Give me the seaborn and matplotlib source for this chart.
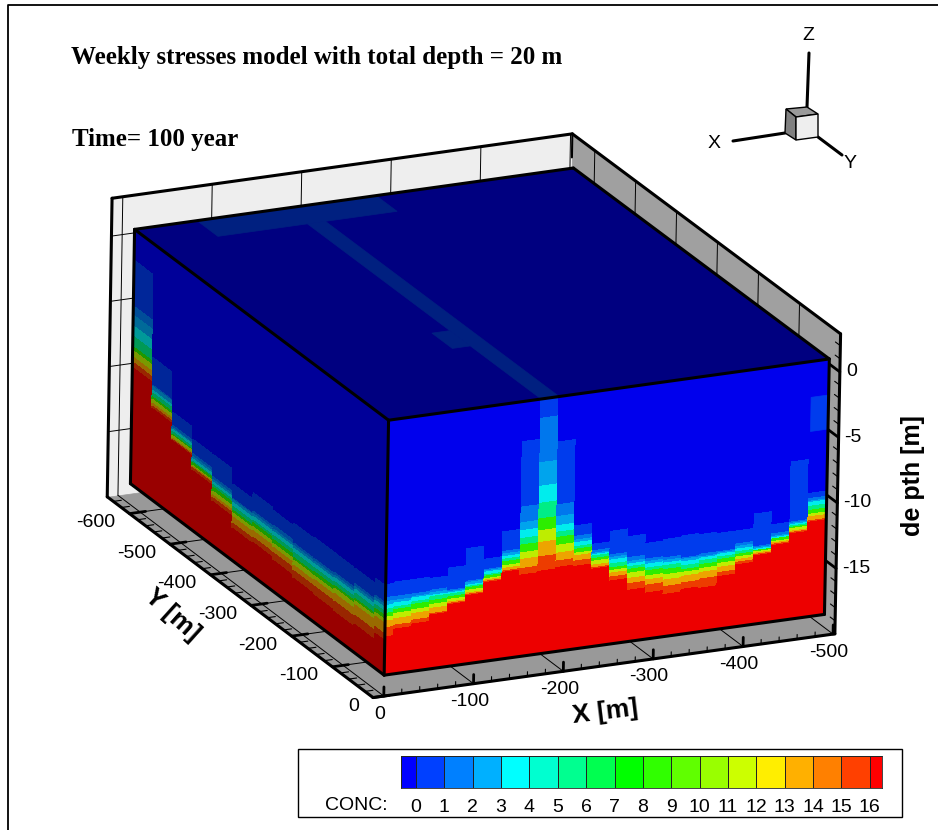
#!/usr/bin/env python3
"""
Tecplot style 3D block of concentration, drawn on a flat seaborn axes
"""

import numpy as np
import matplotlib
matplotlib.use('Agg')
import matplotlib.pyplot as plt
from matplotlib.collections import PolyCollection
import seaborn as sns

# calibration of the view: model point (x, y, z) -> picture pixel
camera_model = [(0, 0, 1.1), (-490, 0, 1.1), (-490, -625, 1.1), (0, -625, 1.1),
                (0, 0, -18.4), (-490, 0, -18.4), (0, -625, -18.4),
                (12, 0, -20), (-502, 0, -20), (12, -655, -20),
                (-502, -655, 2.9), (12, -655, 2.9), (-502, 0, 2.9)]
camera_pixels = [(388, 422), (832, 361), (573, 169), (135, 230),
                 (385, 675), (824, 615), (130, 483),
                 (373, 697), (835, 634), (107, 497),
                 (573, 134), (112, 197), (838, 330)]

# colour bar
conc_levels = list(range(17))
band_colors = ['#0000ff', '#0040ff', '#0080ff', '#00b0ff', '#00ffff', '#00ffd0',
               '#00ff90', '#00ff50', '#00ff00', '#30ff00', '#60ff00', '#99ff00',
               '#ccff00', '#ffee00', '#ffb000', '#ff8000', '#ff4000', '#ff0000']
bar_edges = [-0.53] + conc_levels + [16.43]

# colour band used between two depth contours, top of block to bottom
interval_bands = [0, 1, 2, 3, 4, 6, 9, 12, 14, 16, 17]

data_top = 1.1
data_depth = 19.5

# X face (y = 0): depth below block top of each contour, one value per column
x_edges = [0, -10, -30, -50, -70, -90, -110, -130, -150, -170, -190, -210, -230,
           -250, -270, -290, -310, -330, -350, -370, -390, -410, -430, -450, -470, -490]
x_c1 = [12.6, 12.5, 12.5, 12.6, 12.0, 10.7, 11.7, 9.8, 3.1, 0.1, 3.5, 10.1, 11.7,
        10.9, 11.5, 12.2, 12.1, 12.0, 12.1, 12.2, 12.2, 11.1, 12.1, 7.5, 10.1]
x_c2 = [13.6, 13.6, 13.6, 13.5, 13.7, 13.2, 12.5, 11.3, 8.1, 1.5, 8.3, 10.9, 12.2,
        12.7, 13.1, 13.4, 13.5, 13.7, 13.6, 13.6, 13.2, 13.6, 12.8, 12.1, 10.5]
x_c3 = [13.9, 13.9, 13.8, 13.7, 13.8, 13.3, 12.6, 11.5, 9.3, 4.9, 9.2, 11.2, 12.4,
        12.9, 13.4, 13.6, 13.7, 13.8, 13.8, 13.7, 13.4, 13.7, 13.0, 12.2, 10.7]
x_c4 = [14.2, 14.1, 13.9, 13.9, 13.9, 13.5, 12.7, 11.7, 9.9, 6.7, 9.9, 11.4, 12.5,
        13.1, 13.6, 13.8, 13.9, 14.0, 13.9, 13.8, 13.6, 13.8, 13.1, 12.3, 10.8]
x_c6 = [14.5, 14.4, 14.2, 14.0, 14.0, 13.6, 12.9, 11.9, 10.5, 8.0, 10.4, 11.7, 12.6,
        13.4, 13.8, 14.1, 14.1, 14.3, 14.1, 14.0, 13.8, 13.9, 13.2, 12.4, 11.1]
x_c8 = [14.8, 14.6, 14.4, 14.3, 14.2, 13.7, 13.0, 12.1, 11.0, 9.2, 10.8, 11.9, 12.8,
        13.7, 14.0, 14.3, 14.4, 14.6, 14.4, 14.2, 14.0, 13.9, 13.2, 12.5, 11.4]
x_c10 = [15.1, 14.9, 14.8, 14.6, 14.4, 13.9, 13.2, 12.4, 11.6, 10.1, 11.4, 12.2, 13.0,
         13.9, 14.3, 14.7, 14.8, 14.8, 14.7, 14.5, 14.2, 14.0, 13.4, 12.6, 11.7]
x_c13 = [15.4, 15.3, 15.1, 14.9, 14.6, 14.1, 13.3, 12.6, 12.1, 11.0, 12.0, 12.4, 13.3,
         14.1, 14.7, 15.0, 15.2, 15.1, 15.0, 14.8, 14.4, 14.1, 13.5, 12.8, 11.9]
x_c15 = [15.9, 15.8, 15.6, 15.3, 14.7, 14.2, 13.4, 12.8, 12.8, 12.1, 12.6, 12.8, 13.5,
         14.4, 15.1, 15.4, 15.7, 15.6, 15.5, 15.2, 14.6, 14.2, 13.6, 12.9, 12.2]
x_c16 = [16.6, 16.1, 15.9, 15.4, 14.8, 14.3, 13.5, 12.9, 13.3, 13.2, 13.1, 13.2, 13.6,
         14.7, 15.6, 16.0, 16.3, 16.1, 16.2, 15.5, 14.8, 14.3, 13.7, 13.0, 12.3]
# upper patch of band 1 in the last X column
patch_x = [-470, -490]
patch_depth = [2.7, 5.3]

# Y face (x = 0): same contours, columns from the back of the block to the front
y_edges = [-625, -575, -525, -475, -425, -375, -325, -275, -225, -175, -125, -75, -25, 0]
y_c1 = [2.4, 8.7, 11.7, 12.6, 12.6, 13.7, 13.2, 13.4, 13.2, 13.1, 13.1, 13.1, 12.7]
y_c2 = [5.9, 10.8, 12.7, 13.7, 14.3, 14.8, 14.6, 14.5, 14.7, 14.7, 14.6, 14.3, 14.0]
y_c3 = [6.6, 10.9, 12.9, 13.9, 14.5, 14.9, 14.8, 14.8, 14.9, 14.9, 14.8, 14.5, 14.2]
y_c4 = [7.4, 11.2, 13.0, 14.1, 14.7, 15.1, 15.0, 15.0, 15.1, 15.1, 15.0, 14.7, 14.4]
y_c6 = [8.2, 11.4, 13.2, 14.3, 14.9, 15.4, 15.3, 15.3, 15.4, 15.4, 15.3, 15.0, 14.7]
y_c8 = [9.0, 11.7, 13.4, 14.4, 15.1, 15.7, 15.5, 15.6, 15.8, 15.7, 15.6, 15.4, 15.0]
y_c10 = [9.3, 11.9, 13.5, 14.6, 15.4, 15.9, 15.8, 15.9, 16.0, 16.0, 15.8, 15.6, 15.3]
y_c13 = [9.8, 12.2, 13.7, 14.7, 15.7, 16.2, 16.1, 16.2, 16.4, 16.3, 16.2, 15.9, 15.6]
y_c15 = [10.2, 12.4, 13.8, 14.8, 15.9, 16.7, 16.6, 16.6, 16.8, 16.8, 16.8, 16.7, 16.4]
y_c16 = [10.6, 12.6, 13.9, 15.0, 16.2, 17.1, 17.0, 17.2, 17.4, 17.5, 17.6, 17.4, 16.9]

# top of the block: cells of band 1 as (x from, x to, y from, y to)
top_cells = [(-70, -270, -625, -575), (-170, -190, -575, 0), (-150, -170, -225, -175)]

# axes
x_ticks = [0, -100, -200, -300, -400, -500]
y_ticks = [0, -100, -200, -300, -400, -500, -600]
z_ticks = [0, -5, -10, -15]
x_minor = [-20, -40, -60, -80, -120, -140, -160, -180, -220, -240, -260, -280,
           -320, -340, -360, -380, -420, -440, -460, -480]
y_minor = [-20, -40, -60, -80, -120, -140, -160, -180, -220, -240, -260, -280,
           -320, -340, -360, -380, -420, -440, -460, -480, -520, -540, -560, -580, -620, -640]
z_minor = [-1, -2, -3, -4, -6, -7, -8, -9, -11, -12, -13, -14, -16, -17, -18, -19, 1, 2]
frame_x = (12, -502)
frame_y = (0, -655)
frame_z = (-20, 2.9)

# axis triad in the corner and page border, picture pixels
triad_z = ([809, 807], [53, 107])
triad_x = ([733, 785], [141, 133])
triad_y = ([818, 842], [137, 155])
cube_top = [(786, 109), (807, 107), (818, 114), (796, 117)]
cube_left = [(786, 109), (796, 117), (796, 140), (785, 133)]
cube_right = [(796, 117), (818, 114), (818, 137), (796, 140)]
border_x = [8, 8, 938]
border_y = [830, 5, 5]

sns.set_style("white")
plt.rcParams['font.family'] = ['Liberation Sans', 'DejaVu Sans']
plt.rcParams['text.color'] = 'black'
plt.rcParams['xtick.color'] = 'black'

SHADE_X = 0.93
SHADE_Y = 0.60
SHADE_TOP = 0.50

# painter's order: whatever is drawn later sits on top
draw_order = [1]


def next_z():
    draw_order[0] += 1
    return draw_order[0]


def fit_camera(model, pixels):
    """Least squares projective camera from matching points"""
    rows, rhs = [], []
    for (x, y, z), (u, v) in zip(model, pixels):
        rows.append([x, y, z, 1, 0, 0, 0, 0, -u * x, -u * y, -u * z])
        rows.append([0, 0, 0, 0, x, y, z, 1, -v * x, -v * y, -v * z])
        rhs += [u, v]
    p = np.linalg.lstsq(np.array(rows, float), np.array(rhs, float), rcond=None)[0]
    return np.append(p, 1.0).reshape(3, 4)


CAMERA = fit_camera(camera_model, camera_pixels)


def project(x, y, z):
    w = CAMERA @ np.array([x, y, z, 1.0])
    return w[0] / w[2], w[1] / w[2]


def shade(color, factor):
    return tuple(c * factor for c in sns.color_palette([color])[0])


def edge(ax, a, b, lw=2.2, color='black'):
    """Straight line between two model points"""
    ua, va = project(*a)
    ub, vb = project(*b)
    sns.lineplot(x=[ua, ub], y=[va, vb], sort=False, estimator=None, color=color,
                 linewidth=lw, legend=False, ax=ax, solid_capstyle='round', zorder=next_z())


def add_polys(ax, polys, colors):
    # no antialiasing, otherwise seams show between neighbouring columns
    ax.add_collection(PolyCollection(polys, facecolors=colors, edgecolors=colors,
                                     linewidths=0.5, antialiaseds=False, zorder=next_z()))


def quad(points):
    return [project(*p) for p in points]


def draw_walls(ax):
    xa, xb = frame_x
    ya, yb = frame_y
    za, zb = frame_z
    add_polys(ax, [quad([(xa, yb, za), (xb, yb, za), (xb, yb, zb), (xa, yb, zb)])], ['#eeeeee'])
    add_polys(ax, [quad([(xb, ya, za), (xb, yb, za), (xb, yb, zb), (xb, ya, zb)])], ['#a0a0a0'])
    add_polys(ax, [quad([(xa, ya, za), (xb, ya, za), (xb, yb, za), (xa, yb, za)])], ['#999999'])

    # grid lines on the three planes
    for xt in x_ticks:
        edge(ax, (xt, ya, za), (xt, yb, za), lw=0.7)
        edge(ax, (xt, yb, za), (xt, yb, zb), lw=0.7)
    for yt in y_ticks:
        edge(ax, (xa, yt, za), (xb, yt, za), lw=0.7)
        edge(ax, (xb, yt, za), (xb, yt, zb), lw=0.7)
    for zt in z_ticks:
        edge(ax, (xa, yb, zt), (xb, yb, zt), lw=0.7)
        edge(ax, (xb, yb, zt), (xb, ya, zt), lw=0.7)

    # frame outline
    outline = [((xa, yb, zb), (xb, yb, zb)), ((xb, yb, zb), (xb, ya, zb)),
               ((xb, ya, zb), (xb, ya, za)), ((xb, ya, za), (xa, ya, za)),
               ((xa, ya, za), (xa, yb, za)), ((xa, yb, za), (xa, yb, zb))]
    for a, b in outline:
        edge(ax, a, b)
    edge(ax, (xb, yb, zb), (xb, yb, data_top), lw=1.5)


def draw_ticks(ax):
    xa, xb = frame_x
    ya, yb = frame_y
    za = frame_z[0]
    for xt in x_ticks:
        edge(ax, (xt, ya, za), (xt, ya, za + 0.7), lw=2)
        u, v = project(xt, ya, za)
        ax.text(u - 4, v + 18, str(xt), ha='center', va='center', fontsize=14, zorder=5000)
    for xt in x_minor:
        edge(ax, (xt, ya, za), (xt, ya, za + 0.35), lw=0.8)
    for yt in y_ticks:
        edge(ax, (xa, yt, za), (xa - 18, yt, za), lw=2)
        u, v = project(xa, yt, za)
        ax.text(u - 14, v + 9, str(yt), ha='right', va='center', fontsize=14, zorder=5000)
    for yt in y_minor:
        edge(ax, (xa, yt, za), (xa - 9, yt, za), lw=0.8)
    for zt in z_ticks:
        edge(ax, (xb, ya, zt), (xb, ya - 25, zt), lw=2)
        u, v = project(xb, ya, zt)
        ax.text(u + 6, v, str(zt), ha='left', va='center', fontsize=14, zorder=5000)
    for zt in z_minor:
        edge(ax, (xb, ya, zt), (xb, ya - 12, zt), lw=0.8)


def column_polys(corner, edges, contours, factor):
    """Stack the colour bands of each column. corner maps (position, z) to a model point"""
    polys, colors = [], []
    for i in range(len(edges) - 1):
        depths = [0.0] + [c[i] for c in contours] + [data_depth]
        for k, band in enumerate(interval_bands):
            z0 = data_top - depths[k]
            z1 = data_top - depths[k + 1]
            polys.append(quad([corner(edges[i], z0), corner(edges[i + 1], z0),
                               corner(edges[i + 1], z1), corner(edges[i], z1)]))
            colors.append(shade(band_colors[band], factor))
    return polys, colors


def draw_block(ax):
    x_end, y_end = x_edges[-1], y_edges[0]
    z_top = data_top
    z_bot = data_top - data_depth

    # top face
    add_polys(ax, [quad([(0, 0, z_top), (x_end, 0, z_top), (x_end, y_end, z_top), (0, y_end, z_top)])],
              [shade(band_colors[0], SHADE_TOP)])
    for x0, x1, y0, y1 in top_cells:
        add_polys(ax, [quad([(x0, y0, z_top), (x1, y0, z_top), (x1, y1, z_top), (x0, y1, z_top)])],
                  [shade(band_colors[1], SHADE_TOP)])

    # side faces
    x_contours = [x_c1, x_c2, x_c3, x_c4, x_c6, x_c8, x_c10, x_c13, x_c15, x_c16]
    polys, colors = column_polys(lambda p, z: (p, 0, z), x_edges, x_contours, SHADE_X)
    add_polys(ax, polys, colors)
    add_polys(ax, [quad([(patch_x[0], 0, z_top - patch_depth[0]), (patch_x[1], 0, z_top - patch_depth[0]),
                         (patch_x[1], 0, z_top - patch_depth[1]), (patch_x[0], 0, z_top - patch_depth[1])])],
              [shade(band_colors[1], SHADE_X)])

    y_contours = [y_c1, y_c2, y_c3, y_c4, y_c6, y_c8, y_c10, y_c13, y_c15, y_c16]
    polys, colors = column_polys(lambda p, z: (0, p, z), y_edges, y_contours, SHADE_Y)
    add_polys(ax, polys, colors)

    # block outline
    corners = [((0, 0, z_top), (x_end, 0, z_top)), ((x_end, 0, z_top), (x_end, y_end, z_top)),
               ((x_end, y_end, z_top), (0, y_end, z_top)), ((0, y_end, z_top), (0, 0, z_top)),
               ((0, 0, z_top), (0, 0, z_bot)), ((x_end, 0, z_top), (x_end, 0, z_bot)),
               ((0, y_end, z_top), (0, y_end, z_bot)), ((0, 0, z_bot), (x_end, 0, z_bot)),
               ((0, 0, z_bot), (0, y_end, z_bot))]
    for a, b in corners:
        edge(ax, a, b)


def draw_triad(ax):
    for xs, ys in (triad_z, triad_x, triad_y):
        sns.lineplot(x=xs, y=ys, sort=False, estimator=None, color='black', linewidth=2.2,
                     legend=False, ax=ax, zorder=next_z())
    for pts, col in ((cube_top, '#9a9a9a'), (cube_left, '#808080'), (cube_right, '#eeeeee')):
        ax.add_patch(plt.Polygon(pts, closed=True, facecolor=col, edgecolor='black',
                                 linewidth=1, zorder=next_z()))
    ax.text(808, 35, 'Z', ha='center', va='center', fontsize=14, zorder=5000)
    ax.text(714, 143, 'X', ha='center', va='center', fontsize=14, zorder=5000)
    ax.text(850, 163, 'Y', ha='center', va='center', fontsize=14, zorder=5000)


def draw_legend(fig, ax):
    ax.add_patch(plt.Rectangle((298, 749), 604, 68, facecolor='white', edgecolor='black',
                               linewidth=1, zorder=next_z()))
    bar = fig.add_axes([401 / 938, 1 - 788 / 830, 481 / 938, 32 / 830])
    cmap = matplotlib.colors.ListedColormap(sns.color_palette(band_colors))
    bar.pcolormesh(bar_edges, [0, 1], [list(range(len(band_colors)))], cmap=cmap,
                   edgecolors='#222222', linewidth=0.6)
    bar.set_xlim(bar_edges[0], bar_edges[-1])
    bar.set_yticks([])
    bar.set_xticks(conc_levels)
    bar.set_xticklabels([str(c) for c in conc_levels], fontsize=14)
    bar.tick_params(axis='x', length=0, pad=8)
    for spine in bar.spines.values():
        spine.set_linewidth(0.6)
    ax.text(388, 805, 'CONC:', ha='right', va='center', fontsize=14, zorder=5000)


def main():
    fig = plt.figure(figsize=(9.38, 8.30), dpi=100)
    ax = fig.add_axes([0, 0, 1, 1])
    ax.set_xlim(0, 938)
    ax.set_ylim(830, 0)
    ax.axis('off')

    sns.lineplot(x=border_x, y=border_y, sort=False, estimator=None, color='black',
                 linewidth=1.3, legend=False, ax=ax)
    ax.set_xlim(0, 938)
    ax.set_ylim(830, 0)

    draw_walls(ax)
    draw_ticks(ax)
    draw_block(ax)
    draw_triad(ax)
    draw_legend(fig, ax)

    ax.text(71, 57.5, 'Weekly stresses model with total depth = 20 m', ha='left', va='center',
            fontsize=18, fontweight='bold', family=['Liberation Serif'], zorder=5000)
    ax.text(72, 139.5, 'Time= 100 year', ha='left', va='center',
            fontsize=18, fontweight='bold', family=['Liberation Serif'], zorder=5000)
    ax.text(605, 712, 'X [m]', ha='center', va='center', fontsize=19, fontweight='bold',
            rotation=7, zorder=5000)
    ax.text(172, 615, 'Y [m]', ha='center', va='center', fontsize=19, fontweight='bold',
            rotation=-42, zorder=5000)
    ax.text(913, 476, 'de pth [m]', ha='center', va='center', fontsize=18, fontweight='bold',
            rotation=90, zorder=5000)

    plt.savefig('out.png', dpi=100)
    plt.close()


if __name__ == "__main__":
    main()
